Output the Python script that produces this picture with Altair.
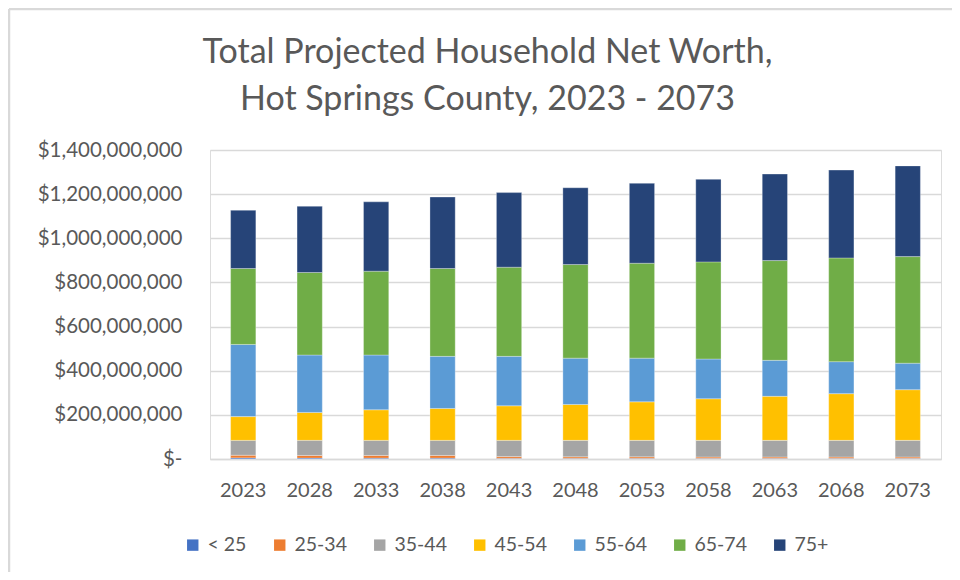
import altair as alt
import pandas as pd

years = ["2023", "2028", "2033", "2038", "2043", "2048", "2053", "2058", "2063", "2068", "2073"]
groups = ["< 25", "25-34", "35-44", "45-54", "55-64", "65-74", "75+"]
colors = ["#4472C4", "#ED7D31", "#A5A5A5", "#FFC000", "#5B9BD5", "#70AD47", "#264478"]

# values in millions of dollars
under25 = [5, 4, 4, 4, 3, 3, 3, 3, 3, 3, 3]
a25_34 = [12, 12, 12, 12, 8, 7, 7, 6, 6, 6, 6]
a35_44 = [67.5, 68.5, 68.5, 68.5, 73.5, 74.5, 74.5, 75.5, 75.5, 75.5, 75.5]
a45_54 = [107.5, 126.5, 138.5, 144.5, 156.5, 162.5, 174.5, 188.5, 199.5, 211.5, 229.5]
a55_64 = [327, 260, 248, 236, 224, 210, 198, 180, 163, 145, 120]
a65_74 = [344, 374, 380, 398, 404, 424, 430, 440, 452, 470, 483]
a75p = [264, 300, 314, 324, 338, 348, 362, 374, 392, 398, 411]

series = [under25, a25_34, a35_44, a45_54, a55_64, a65_74, a75p]

rows = []
for gi, (g, vals) in enumerate(zip(groups, series)):
    for y, v in zip(years, vals):
        rows.append({"year": y, "group": g, "idx": gi, "value": v * 1e6})
df = pd.DataFrame(rows)
frame_df = pd.DataFrame({"edge": ["frame"]})

FONT = "Lato"
GREY = "#595959"
FRAME = "#d9d9d9"

bars = alt.Chart(df).mark_bar(stroke="white", strokeWidth=0.5, strokeOpacity=0.6).encode(
    x=alt.X("year:N", sort=years, title=None,
            scale=alt.Scale(paddingInner=0.62, paddingOuter=0.31),
            axis=alt.Axis(labelAngle=0, labelFontSize=20, labelColor=GREY, labelFont=FONT,
                          labelPadding=21, ticks=False, domainColor=FRAME, domainWidth=1.5)),
    y=alt.Y("value:Q", stack="zero", title=None,
            scale=alt.Scale(domain=[0, 1400000000]),
            axis=alt.Axis(values=[0, 200e6, 400e6, 600e6, 800e6, 1000e6, 1200e6, 1400e6],
                          labelExpr="datum.value == 0 ? '$-\u00a0\u00a0' : '$' + format(datum.value, ',')",
                          labelFontSize=20.5, labelColor=GREY, labelFont=FONT, labelPadding=28,
                          ticks=False, domain=False, gridColor=FRAME, gridWidth=1.5)),
    color=alt.Color("group:N", sort=groups,
                    scale=alt.Scale(domain=groups, range=colors),
                    legend=alt.Legend(title=None, orient="none", direction="horizontal",
                                      legendX=-27, legendY=385, symbolType="square",
                                      symbolSize=130, symbolStrokeWidth=0, labelFontSize=19.5,
                                      labelColor=GREY, labelFont=FONT, columnPadding=23,
                                      labelOffset=5)),
    order=alt.Order("idx:Q", sort="ascending"),
)

# outer chart frame (left and top edges, as in the reference)
frame_left = alt.Chart(frame_df).mark_rule(color=FRAME, strokeWidth=2.5, clip=False).encode(
    x=alt.value(-201), x2=alt.value(-201), y=alt.value(-141), y2=alt.value(430))
frame_top = alt.Chart(frame_df).mark_rule(color=FRAME, strokeWidth=2.5, clip=False).encode(
    x=alt.value(-201), x2=alt.value(745), y=alt.value(-141), y2=alt.value(-141))

chart = alt.layer(bars, frame_left, frame_top).properties(
    width=731,
    height=309,
    padding={"left": 202, "top": 142, "right": 11, "bottom": 113},
    autosize=alt.AutoSizeParams(type="none"),
    title=alt.TitleParams(
        text=["Total Projected Household Net Worth,", "Hot Springs County, 2023 - 2073"],
        font=FONT, fontSize=34, fontWeight="normal", color=GREY,
        anchor="middle", frame="group", dx=-88, dy=136, offset=27, lineHeight=47,
    ),
).configure_view(strokeWidth=0).configure(background="white")

chart.save("out.html", embed_options={"renderer": "svg", "actions": False})
